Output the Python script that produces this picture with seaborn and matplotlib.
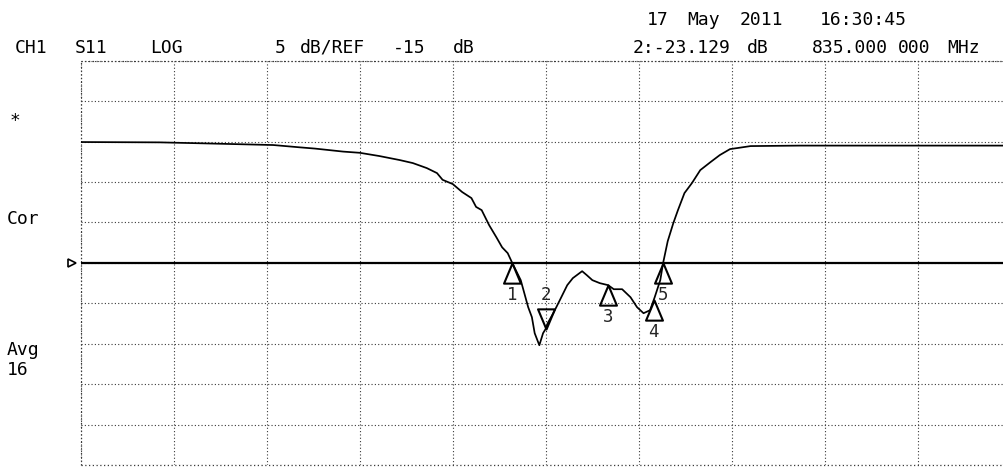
import numpy as np
import matplotlib
matplotlib.use("Agg")
import matplotlib.pyplot as plt
from matplotlib.path import Path
from matplotlib.transforms import blended_transform_factory
import seaborn as sns

# S11 sweep, log magnitude (dB) versus frequency (MHz)
freq_mhz = [785.0, 793.5, 798.1, 805.7, 808.6, 810.2, 813.2, 815.0, 817.1, 819.3,
            820.7, 822.2, 823.3, 823.9, 825.0, 826.0, 827.0, 827.5, 828.1, 828.9,
            829.7, 830.3, 830.9, 831.4, 832.3, 833.1, 833.5, 833.8, 834.3, 834.7,
            835.0, 835.2, 835.8, 836.5, 837.3, 837.9, 838.9, 839.4, 840.0, 840.8,
            841.7, 842.3, 843.2, 844.1, 844.8, 845.5, 846.2, 846.7, 847.3, 847.6,
            848.1, 848.7, 849.2, 849.9, 850.7, 851.6, 852.7, 853.7, 854.8, 855.6,
            857.0, 862.3, 885.0]
s11_db = [-0.06, -0.10, -0.22, -0.43, -0.72, -0.87, -1.24, -1.39, -1.79, -2.29,
          -2.66, -3.28, -3.90, -4.73, -5.26, -6.24, -6.99, -8.08, -8.48, -10.33,
          -11.87, -13.08, -13.80, -15.04, -17.14, -20.48, -21.72, -23.70, -25.19, -23.70,
          -23.129, -22.46, -21.23, -19.62, -17.76, -16.89, -16.03, -16.52, -17.14, -17.51,
          -17.76, -18.26, -18.26, -19.25, -20.48, -21.23, -20.86, -19.25, -17.14, -15.04,
          -12.32, -10.09, -8.48, -6.37, -5.14, -3.53, -2.54, -1.67, -0.93, -0.80,
          -0.56, -0.50, -0.50]

# Display settings
start_mhz, stop_mhz = 785.0, 885.0
ref_db = -15.0
db_per_div = 5.0
n_div = 10

# Markers: passive markers (1, 3, 4, 5) and the active marker 2
marker_ids = ["1", "3", "4", "5"]
marker_freqs = [831.4, 841.7, 846.6, 847.6]
active_id = "2"
active_freq = 835.0
active_db = -23.129

sns.set_style("white")
plt.rcParams["font.family"] = ["DejaVu Sans Mono", "DejaVu Sans"]

W, H = 1004, 467
fig = plt.figure(figsize=(W / 100, H / 100), dpi=100)
fig.patch.set_facecolor("white")
ax = fig.add_axes([80.7 / W, (H - 465) / H, 930.3 / W, (465 - 60.7) / H])
ax.set_facecolor("white")

top_db = ref_db + db_per_div * n_div / 2
bot_db = ref_db - db_per_div * n_div / 2
ax.set_xlim(start_mhz, stop_mhz)
ax.set_ylim(bot_db, top_db)
ax.set_xticks(np.linspace(start_mhz, stop_mhz, n_div + 1))
ax.set_yticks(np.linspace(bot_db, top_db, n_div + 1))
ax.tick_params(length=0, labelbottom=False, labelleft=False)
for s in ax.spines.values():
    s.set_visible(False)
ax.grid(True, color="#3a3a3a", linestyle=(0, (1, 2)), linewidth=0.8)
for xv in (start_mhz, stop_mhz):
    ax.axvline(xv, color="#3a3a3a", linestyle=(0, (1, 2)), linewidth=0.9, clip_on=False)
for yv in (bot_db, top_db):
    ax.axhline(yv, color="#3a3a3a", linestyle=(0, (1, 2)), linewidth=0.9, clip_on=False)

# Reference line and its pointer at the left edge
ax.axhline(ref_db, color="black", linewidth=1.6, zorder=3)
blend = blended_transform_factory(ax.transAxes, ax.transData)
ax.plot([-0.009], [ref_db], marker=">", markersize=6, mfc="white", mec="black",
        mew=1.2, transform=blend, clip_on=False, zorder=4)

# Trace
sns.lineplot(x=freq_mhz, y=s11_db, ax=ax, color="black", linewidth=1.25,
             estimator=None, sort=False, zorder=5)

# Marker symbols: apex sits on the trace point
tri_up = Path([(0, 0), (-0.42, -1), (0.42, -1), (0, 0)],
              [Path.MOVETO, Path.LINETO, Path.LINETO, Path.CLOSEPOLY])
tri_down = Path([(0, 0), (-0.42, 1), (0.42, 1), (0, 0)],
                [Path.MOVETO, Path.LINETO, Path.LINETO, Path.CLOSEPOLY])

marker_dbs = np.interp(marker_freqs, freq_mhz, s11_db)
for mid, mf, md in zip(marker_ids, marker_freqs, marker_dbs):
    ax.plot([mf], [md], marker=tri_up, markersize=29, mfc="none", mec="black",
            mew=1.5, zorder=6, linestyle="none")
    ax.annotate(mid, (mf, md), xytext=(0, -23), textcoords="offset points",
                ha="center", va="center", fontsize=12.5, zorder=7)

ax.plot([active_freq], [active_db], marker=tri_down, markersize=29, mfc="none",
        mec="black", mew=1.5, zorder=6, linestyle="none")
ax.annotate(active_id, (active_freq, active_db), xytext=(0, 24),
            textcoords="offset points", ha="center", va="center", fontsize=12.5, zorder=7)


def put(x, y, s, size=13):
    fig.text(x / W, 1 - y / H, s, ha="left", va="baseline", fontsize=size, color="black")


# Date / time line
put(647, 25, "17")
put(687, 25, "May")
put(740, 25, "2011")
put(820, 25, "16:30:45")

# Channel header line
put(15, 53, "CH1")
put(75, 53, "S11")
put(150, 53, "LOG")
put(275, 53, f"{db_per_div:.0f}")
put(300, 53, "dB/REF")
put(393, 53, f"{ref_db:.0f}")
put(453, 53, "dB")
put(633, 53, f"{active_id}:{active_db:.3f}")
put(747, 53, "dB")
put(812, 53, f"{active_freq:.3f}")
put(898, 53, "000")
put(947, 53, "MHz")

# Left-side status annotations
put(10, 126, "*")
put(7, 224, "Cor")
put(7, 355, "Avg")
put(7, 375, "16")

fig.savefig("out.png", dpi=100, facecolor="white")
